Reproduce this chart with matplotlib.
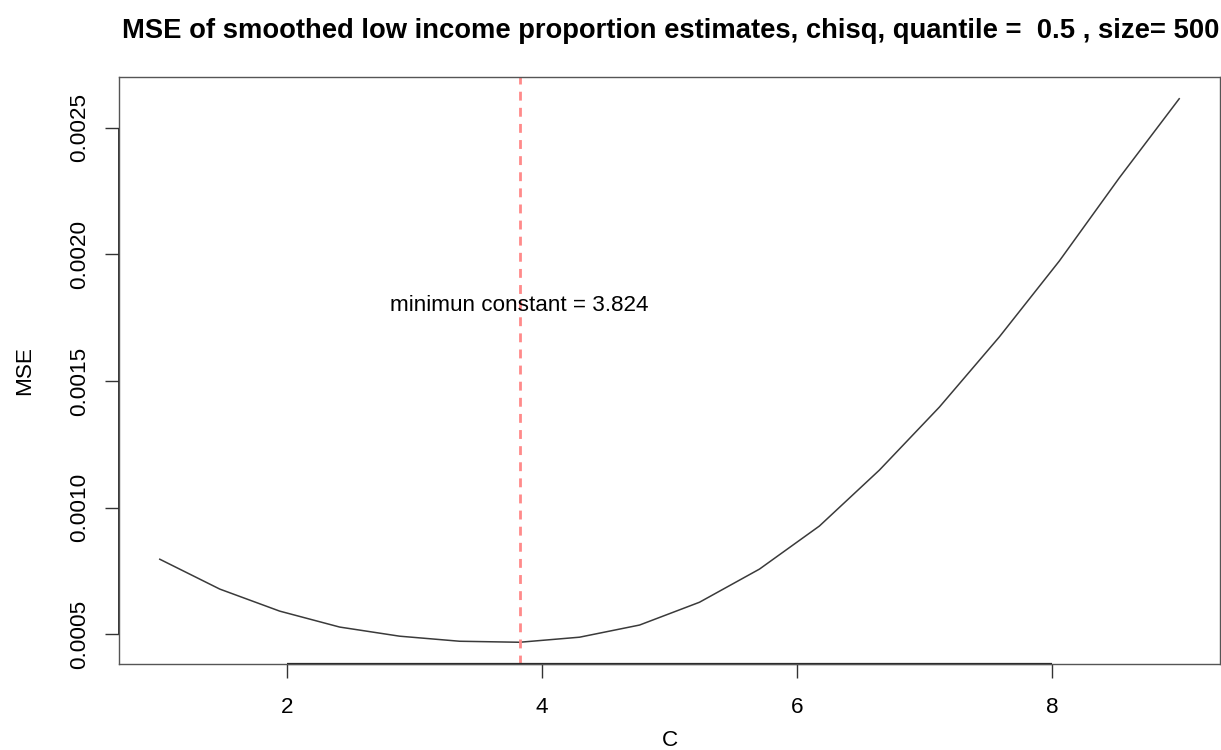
import matplotlib
matplotlib.use("Agg")
import matplotlib.pyplot as plt
import numpy as np

plt.rcParams['font.family'] = ['Liberation Sans', 'DejaVu Sans']

# smoothing constants and their MSE
constants = [1.000, 1.471, 1.941, 2.412, 2.882, 3.353, 3.824, 4.294, 4.765,
             5.235, 5.706, 6.176, 6.647, 7.118, 7.588, 8.059, 8.529, 9.000]
mse = [0.000796, 0.000678, 0.000591, 0.000528, 0.000492, 0.000472,
       0.000468, 0.000488, 0.000536, 0.000626, 0.000757, 0.000927,
       0.001148, 0.001397, 0.001674, 0.001974, 0.002302, 0.002615]
x_ticks = [2, 4, 6, 8]
y_ticks = [0.0005, 0.0010, 0.0015, 0.0020, 0.0025]

best = constants[int(np.argmin(mse))]

fig = plt.figure(figsize=(12.21, 7.5), dpi=100)
ax = fig.add_axes([119 / 1221, 1 - 664 / 750, (1220 - 119) / 1221, (664 - 77) / 750])

ax.plot(constants, mse, color='#3a3a3a', lw=1.1)
ax.axvline(best, color='#ff8a8a', lw=2, ls=(0, (3.2, 2.6)))
ax.text(best, 0.0018, f"minimun constant = {best:.3f}", ha='center', va='center',
        fontsize=16.2)

# R-style 4% padding on both axes
xr = max(constants) - min(constants)
yr = max(mse) - min(mse)
ax.set_xlim(min(constants) - 0.04 * xr, max(constants) + 0.04 * xr)
ax.set_ylim(min(mse) - 0.04 * yr, max(mse) + 0.04 * yr)

ax.set_xticks(x_ticks)
ax.set_xticklabels([str(t) for t in x_ticks])
ax.set_yticks(y_ticks)
ax.set_yticklabels([f"{t:.4f}" for t in y_ticks], rotation=90, va='center')
ax.tick_params(length=10, width=1, color='#333333', labelsize=16.2)
ax.tick_params(axis='x', pad=13.5)
ax.tick_params(axis='y', pad=10.5)

for s in ax.spines.values():
    s.set_color('#555555')
    s.set_linewidth(1)

# axis lines spanning from first to last tick
ax.plot([x_ticks[0], x_ticks[-1]], [0, 0], transform=ax.get_xaxis_transform(),
        color='#222222', lw=1.6, clip_on=False, solid_capstyle='butt')
ax.plot([0, 0], [y_ticks[0], y_ticks[-1]], transform=ax.get_yaxis_transform(),
        color='#222222', lw=1.3, clip_on=False, solid_capstyle='butt')

ax.set_xlabel("C", fontsize=16.2, labelpad=9)
ax.set_ylabel("MSE", fontsize=16.2, labelpad=25)
fig.text(671 / 1221, 1 - 31 / 750,
         "MSE of smoothed low income proportion estimates, chisq, quantile =  0.5 , size= 500",
         ha='center', va='center', fontsize=19.7, fontweight='bold')

fig.savefig("out.png", dpi=100)
